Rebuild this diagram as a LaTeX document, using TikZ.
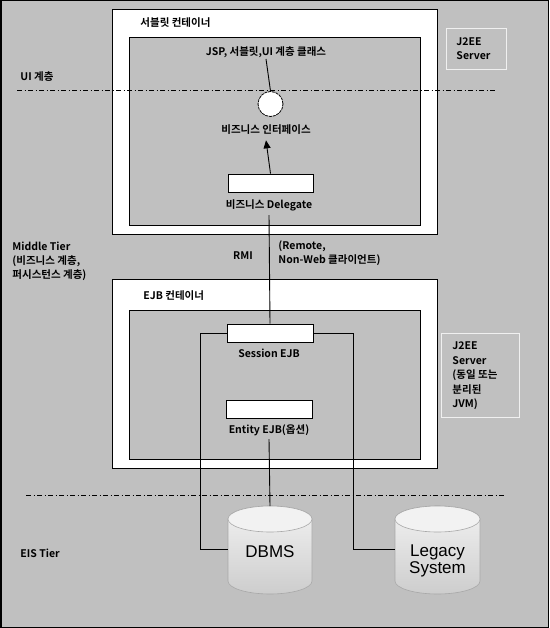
\documentclass[tikz,border=0pt]{standalone}
\usepackage{fontspec}
\setmainfont{Noto Sans CJK KR}[BoldFont={Noto Sans CJK KR Bold}]
\newfontfamily\dbfont{Liberation Sans}
\usetikzlibrary{arrows.meta}
\definecolor{bggray}{HTML}{C0C0C0}
\definecolor{cylline}{HTML}{A8A8A8}
\definecolor{cyltop}{HTML}{F2F2F2}
\definecolor{cylbot}{HTML}{CDCDCD}
\begin{document}
\begin{tikzpicture}[x=1pt,y=-1pt,
  font=\fontsize{10.5}{14}\selectfont\bfseries,
  line width=0.9pt,
  outerbox/.style={draw=black,fill=white,inner sep=0pt},
  innerbox/.style={draw=black,fill=bggray,inner sep=0pt},
  compbox/.style={draw=black,fill=white,inner sep=0pt,minimum width=86pt,minimum height=18pt},
  lbl/.style={inner sep=1pt},
  serverbox/.style={draw=white!94!black,line width=0.8pt,inner sep=0pt},
  tierline/.style={line width=0.8pt,dash pattern=on 5pt off 2.5pt on 1pt off 2.5pt},
  cylbody/.style={draw=cylline,line width=0.6pt,top color=cyltop,bottom color=cylbot},
  cyllbl/.style={font=\dbfont\fontsize{17}{15}\selectfont,align=center,inner sep=0pt}
]
% background
\fill[bggray] (0,0) rectangle (549,628);
\draw[line width=1.5pt] (0.75,0.75) rectangle (548.25,627.25);
\useasboundingbox (0,0) rectangle (549,628);

% servlet container
\node[outerbox,minimum width=325pt,minimum height=225pt] (servO) at (274.5,121.5) {};
\node[innerbox,minimum width=291pt,minimum height=188pt] (servI) at (274.5,131) {};
\node[lbl,anchor=west] (servL) at (139,23) {서블릿 컨테이너};

% J2EE server box 1
\node[serverbox,minimum width=60pt,minimum height=41pt] (srv1) at (476,48.5) {};
\node[lbl,anchor=west,align=left] (srv1L) at (455,49) {J2EE\\Server};

% UI tier line
\coordinate (uiA) at (17,90);
\coordinate (uiB) at (497,90);
\draw[tierline] (uiA) -- (uiB);
\node[lbl,anchor=west] (uiL) at (19,77) {UI 계층};

% servlet contents
\node[lbl] (jsp) at (266,52) {JSP, 서블릿,UI 계층 클래스};
\node[circle,draw=black,fill=white,line width=0.8pt,dash pattern=on 3pt off 0.8pt,minimum size=25pt,inner sep=0pt] (circ) at (270.5,104) {};
\node[lbl] (biz) at (266,130) {비즈니스 인터페이스};
\node[compbox,minimum width=85pt] (deleg) at (270.5,183) {};
\node[lbl] (delegL) at (269,205) {비즈니스 Delegate};

% middle tier texts
\node[lbl,anchor=west,align=left] (midL) at (11,261) {Middle Tier\\(비즈니스 계층,\\퍼시스턴스 계층)};
\node[lbl] (rmi) at (243,256) {RMI};
\node[lbl,anchor=west,align=left] (remote) at (277,253) {(Remote,\\Non-Web 클라이언트)};

% EJB container
\node[outerbox,minimum width=325pt,minimum height=189pt] (ejbO) at (274.5,373.5) {};
\node[innerbox,minimum width=291pt,minimum height=149pt] (ejbI) at (274.5,384.5) {};
\node[lbl,anchor=west] (ejbL) at (142,296) {EJB 컨테이너};
\node[compbox] (sess) at (270,333) {};
\node[lbl] (sessL) at (269,353) {Session EJB};
\node[compbox] (ent) at (269,409) {};
\node[lbl] (entL) at (269,430) {Entity EJB(옵션)};

% J2EE server box 2
\node[serverbox,minimum width=78pt,minimum height=84pt] (srv2) at (480,375) {};
\node[lbl,anchor=west,align=left,font=\fontsize{10.5}{14.5}\selectfont\bfseries] (srv2L) at (451,376) {J2EE\\Server\\(동일 또는\\분리된\\JVM)};

% EIS tier line
\coordinate (eisA) at (26,495);
\coordinate (eisB) at (506,495);
\draw[tierline] (eisA) -- (eisB);
\node[lbl,anchor=west] (eisL) at (19,553) {EIS Tier};

% cylinders
\draw[cylbody] (228,519) -- (228,581) arc (180:0:42 and 13) -- (312,519) arc (0:-180:42 and 13) -- cycle;
\draw[cylline,line width=0.6pt,fill=cyltop] (270,519) ellipse (42 and 13);
\node[cyllbl] (dbms) at (270,552) {DBMS};
\draw[cylbody] (395,519) -- (395,581) arc (180:0:42.5 and 13) -- (480,519) arc (0:-180:42.5 and 13) -- cycle;
\draw[cylline,line width=0.6pt,fill=cyltop] (437.5,519) ellipse (42.5 and 13);
\node[cyllbl] (legacy) at (437.5,561) {Legacy\\System};
\coordinate (dbmsTop) at (270,506);
\coordinate (dbmsLeft) at (228,549);
\coordinate (legLeft) at (395,549);

% connectors
\draw (jsp.south) -- (circ.north);
\draw[-{Triangle[length=8pt,width=7pt]}] (deleg.north) -- ([yshift=-4pt]biz.south);
\draw ([yshift=-3pt]delegL.south) -- (sess.north);
\draw (sess.west) -- ++(-26,0) |- (dbmsLeft);
\draw (sess.east) -- ++(40,0) |- (legLeft);
\draw ([yshift=-2pt]entL.south) -- (dbmsTop);
\end{tikzpicture}
\end{document}
